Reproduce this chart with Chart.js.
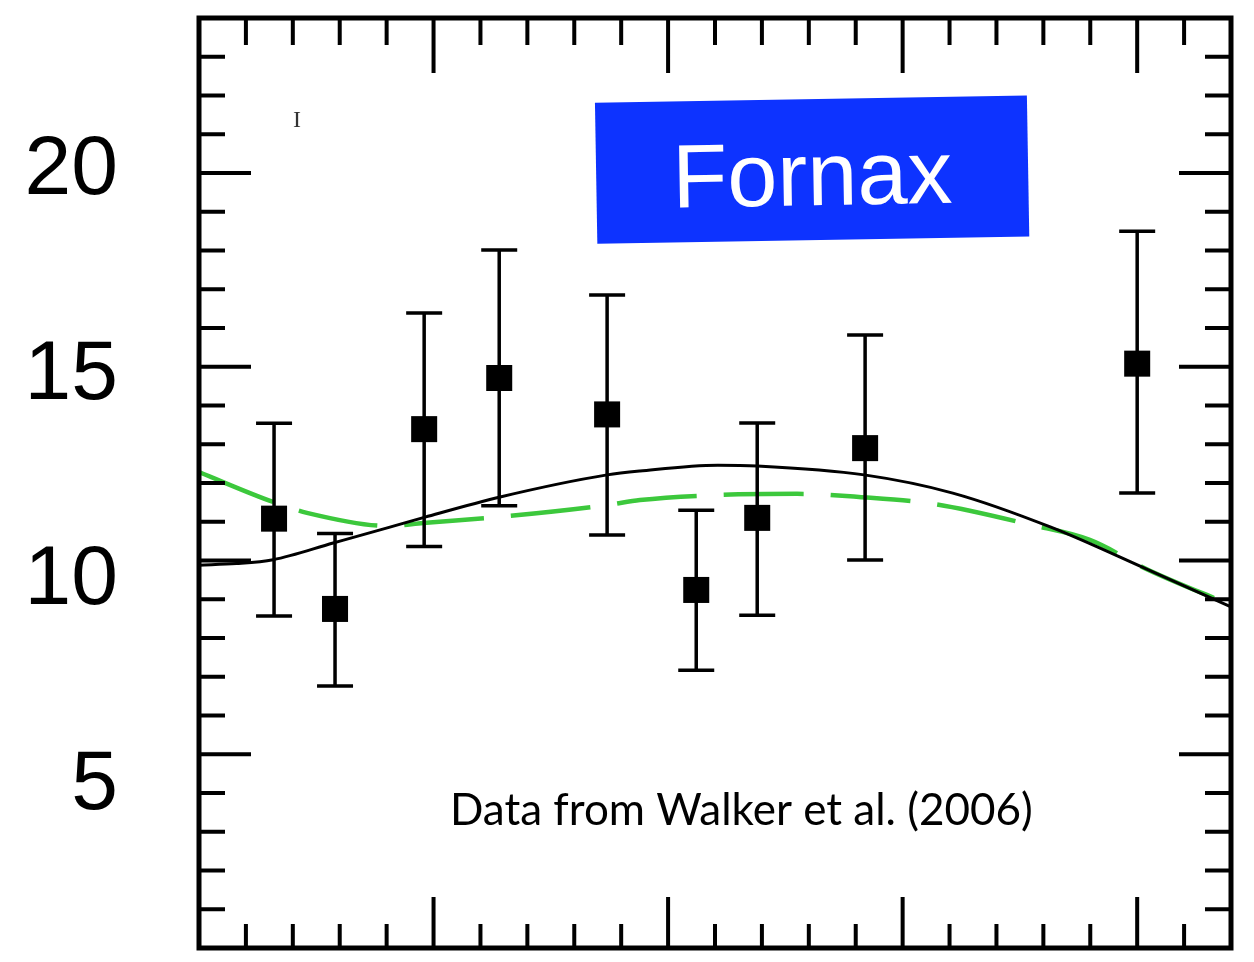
<!DOCTYPE html>
<html>
<head>
<meta charset="utf-8">
<script src="https://cdn.jsdelivr.net/npm/chart.js@4.4.1/dist/chart.umd.min.js"></script>
<style>
  html, body { margin: 0; padding: 0; background: #ffffff; }
  #wrap { width: 1254px; height: 962px; }
</style>
</head>
<body>
<div id="wrap"><canvas id="c" width="1254" height="962"></canvas></div>
<script>
// Fornax: binned velocity dispersion with error bars and two model profiles
const radius  = [0.16, 0.29, 0.48, 0.64, 0.87, 1.06, 1.19, 1.42, 2.00];
const sigma   = [11.08, 8.75, 13.39, 14.71, 13.77, 9.24, 11.10, 12.90, 15.08];
const sigmaHi = [13.54, 10.70, 16.39, 18.01, 16.85, 11.30, 13.55, 15.82, 18.50];
const sigmaLo = [8.57, 6.76, 10.36, 11.41, 10.66, 7.17, 8.59, 10.01, 11.74];

// solid black model
const solidR = [0, 0.080, 0.158, 0.286, 0.407, 0.482, 0.642, 0.870, 0.940, 1.106, 1.190, 1.418, 1.607, 1.816, 2.025, 2.2];
const solidV = [9.88, 9.92, 10.02, 10.45, 10.86, 11.12, 11.64, 12.21, 12.31, 12.46, 12.44, 12.21, 11.74, 10.86, 9.75, 8.80];

// dashed green model
const dashR = [0, 0.158, 0.230, 0.407, 0.478, 0.635, 0.870, 0.940, 1.106, 1.275, 1.407, 1.567, 1.774, 1.899, 2.025, 2.2];
const dashV = [12.28, 11.51, 11.23, 10.89, 10.97, 11.12, 11.43, 11.56, 11.69, 11.72, 11.64, 11.46, 10.92, 10.53, 9.75, 8.85];

const yTickLabels = [5, 10, 15, 20];

const toPts = (xs, ys) => xs.map((x, i) => ({ x: x, y: ys[i] }));

// error bars for the measurement dataset
const errorBars = {
  id: 'errorBars',
  afterDatasetsDraw(chart) {
    const ctx = chart.ctx, xs = chart.scales.x, ys = chart.scales.y;
    ctx.save();
    ctx.strokeStyle = '#000';
    ctx.lineWidth = 3.5;
    const cap = 18;
    radius.forEach((r, i) => {
      const px = xs.getPixelForValue(r);
      const pHi = ys.getPixelForValue(sigmaHi[i]);
      const pLo = ys.getPixelForValue(sigmaLo[i]);
      ctx.beginPath();
      ctx.moveTo(px, pHi); ctx.lineTo(px, pLo);
      ctx.moveTo(px - cap, pHi); ctx.lineTo(px + cap, pHi);
      ctx.moveTo(px - cap, pLo); ctx.lineTo(px + cap, pLo);
      ctx.stroke();
    });
    ctx.restore();
  }
};

// box frame with inward major/minor ticks on all four sides
const frameTicks = {
  id: 'frameTicks',
  afterDraw(chart) {
    const ctx = chart.ctx;
    const { left, right, top, bottom } = chart.chartArea;
    const xs = chart.scales.x, ys = chart.scales.y;
    const isMajor = (v, step) => Math.abs(v / step - Math.round(v / step)) < 1e-6;
    ctx.save();
    ctx.strokeStyle = '#000';
    ctx.lineWidth = 4;
    ctx.beginPath();
    xs.ticks.forEach(t => {
      if (t.value <= xs.min + 1e-9 || t.value >= xs.max - 1e-9) return;
      const px = xs.getPixelForValue(t.value);
      const major = isMajor(t.value, 0.5);
      const lb = major ? 51 : 24, lt = major ? 55 : 27;
      ctx.moveTo(px, bottom); ctx.lineTo(px, bottom - lb);
      ctx.moveTo(px, top); ctx.lineTo(px, top + lt);
    });
    ys.ticks.forEach(t => {
      if (t.value <= ys.min + 1e-9 || t.value >= ys.max - 1e-9) return;
      const py = ys.getPixelForValue(t.value);
      const major = isMajor(t.value, 5);
      const len = major ? 52 : 26;
      ctx.moveTo(left, py); ctx.lineTo(left + len, py);
      ctx.moveTo(right, py); ctx.lineTo(right - len, py);
    });
    ctx.stroke();
    ctx.lineWidth = 5;
    ctx.strokeRect(left, top, right - left, bottom - top);
    ctx.restore();
  }
};

// title badge, source note
const notes = {
  id: 'notes',
  afterDraw(chart) {
    const ctx = chart.ctx, xs = chart.scales.x, ys = chart.scales.y;
    ctx.save();

    // badge
    const bx = xs.getPixelForValue(1.307), by = ys.getPixelForValue(20.1);
    ctx.translate(bx, by);
    ctx.rotate(-0.017);
    ctx.fillStyle = '#0d33ff';
    ctx.fillRect(-216, -70, 432, 141);
    ctx.fillStyle = '#ffffff';
    ctx.font = '90px "Liberation Sans", Arial, sans-serif';
    ctx.textAlign = 'center';
    ctx.textBaseline = 'alphabetic';
    ctx.fillText('Fornax', 0, 36);
    ctx.setTransform(1, 0, 0, 1, 0, 0);

    // source note
    ctx.fillStyle = '#000';
    ctx.font = '44px Lato, "Open Sans", sans-serif';
    ctx.textAlign = 'left';
    ctx.textBaseline = 'alphabetic';
    ctx.fillText('Data from Walker et al. (2006)', xs.getPixelForValue(0.535), ys.getPixelForValue(3.17));

    // small stray glyph near the top-left
    ctx.fillStyle = '#333';
    ctx.font = '24px "Liberation Serif", serif';
    ctx.textAlign = 'center';
    ctx.fillText('I', xs.getPixelForValue(0.209), ys.getPixelForValue(21.2));
    ctx.restore();
  }
};

new Chart(document.getElementById('c'), {
  type: 'scatter',
  data: {
    datasets: [
      {
        label: 'measured',
        data: toPts(radius, sigma),
        pointStyle: 'rect',
        pointRadius: 18.4,
        pointHoverRadius: 18.4,
        backgroundColor: '#000',
        borderWidth: 0,
        showLine: false,
        order: 1
      },
      {
        label: 'model solid',
        data: toPts(solidR, solidV),
        showLine: true,
        borderColor: '#000',
        borderWidth: 3,
        pointRadius: 0,
        cubicInterpolationMode: 'monotone',
        fill: false,
        order: 2
      },
      {
        label: 'model dashed',
        data: toPts(dashR, dashV),
        showLine: true,
        borderColor: '#3cc83c',
        borderWidth: 4.5,
        borderDash: [80, 27],
        pointRadius: 0,
        cubicInterpolationMode: 'monotone',
        fill: false,
        order: 3
      }
    ]
  },
  options: {
    responsive: false,
    animation: false,
    devicePixelRatio: 1,
    layout: { autoPadding: false, padding: { top: 18, right: 23, bottom: 14, left: 0 } },
    plugins: { legend: { display: false }, tooltip: { enabled: false } },
    scales: {
      x: {
        type: 'linear', min: 0, max: 2.2,
        ticks: { display: false, stepSize: 0.1 },
        grid: { display: false, drawTicks: false },
        border: { display: false },
        afterFit(s) { s.height = 0; s.paddingLeft = 0; s.paddingRight = 0; }
      },
      y: {
        type: 'linear', position: 'left', min: 0, max: 24,
        ticks: { display: false, stepSize: 1 },
        grid: { display: false, drawTicks: false },
        border: { display: false },
        afterFit(s) { s.width = 0; s.paddingTop = 0; s.paddingBottom = 0; }
      },
      yLabels: {
        type: 'linear', position: 'left', min: 1.055, max: 23.716,
        afterBuildTicks(s) { s.ticks = yTickLabels.map(v => ({ value: v })); },
        ticks: {
          color: '#000',
          padding: 81,
          font: { family: '"Liberation Sans", Arial, sans-serif', size: 84 }
        },
        grid: { display: false, drawTicks: false },
        border: { display: false },
        afterFit(s) { s.width = 199; s.paddingTop = 0; s.paddingBottom = 0; }
      }
    }
  },
  plugins: [errorBars, frameTicks, notes]
});
</script>
</body>
</html>
